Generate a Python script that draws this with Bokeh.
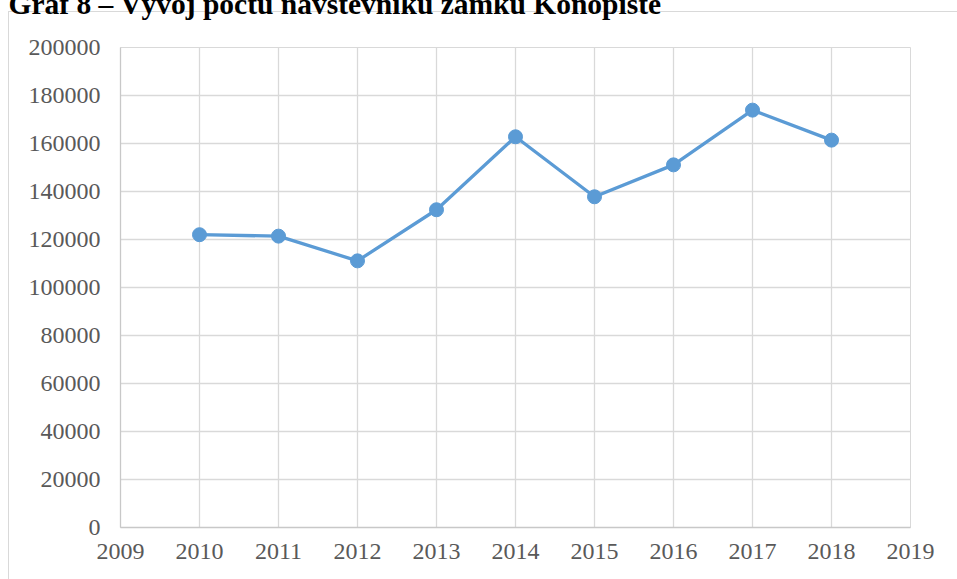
from bokeh.plotting import figure
from bokeh.models import Range1d, FixedTicker, NumeralTickFormatter, ColumnDataSource
from bokeh.embed import file_html
from bokeh.resources import INLINE

# ---- data ----
years = [2010, 2011, 2012, 2013, 2014, 2015, 2016, 2017, 2018]
visitors = [122000, 121400, 111100, 132400, 162800, 137800, 151100, 173900, 161400]
x_ticks = [2009, 2010, 2011, 2012, 2013, 2014, 2015, 2016, 2017, 2018, 2019]
y_ticks = [0, 20000, 40000, 60000, 80000, 100000, 120000, 140000, 160000, 180000, 200000]
title_text = "Graf 8 – Vývoj počtu návštěvníků zámku Konopiště"

SHIFT = 43  # canvas starts above the window so that only the lower part of the caption shows
W, H = 957, 579 + SHIFT
border_css = ("linear-gradient(#d9d9d9, #d9d9d9) 8px %dpx / 1px 100%% no-repeat, "
              "linear-gradient(#d9d9d9, #d9d9d9) 8px %dpx / 100%% 1px no-repeat, #ffffff") % (11 + SHIFT, 11 + SHIFT)
p = figure(width=W, height=H, output_backend="svg", toolbar_location=None,
           x_range=Range1d(x_ticks[0], x_ticks[-1]), y_range=Range1d(y_ticks[0], y_ticks[-1]),
           min_border_left=120, min_border_right=47, min_border_top=47 + SHIFT, min_border_bottom=52,
           margin=(-SHIFT, 0, 0, 0), styles={"background": border_css})
p.background_fill_color = "white"
p.border_fill_alpha = 0
p.outline_line_color = "#d9d9d9"
p.outline_line_width = 1

p.title.text = title_text
p.title.text_font = "Liberation Serif"
p.title.text_font_style = "bold"
p.title.text_font_size = "29.5px"
p.title.text_color = "black"
p.title.align = "left"
p.title.standoff = 56
p.title.offset = -112

grid_c = "#d9d9d9"
p.xgrid.ticker = FixedTicker(ticks=x_ticks)
p.ygrid.ticker = FixedTicker(ticks=y_ticks)
p.xgrid.grid_line_color = grid_c
p.ygrid.grid_line_color = grid_c
p.xgrid.grid_line_width = 1.3
p.ygrid.grid_line_width = 1.3

for ax in (p.xaxis[0], p.yaxis[0]):
    ax.axis_line_color = "#c8c8c8"
    ax.axis_line_width = 1.3
    ax.major_tick_line_color = None
    ax.minor_tick_line_color = None
    ax.major_tick_in = 0
    ax.major_tick_out = 0
    ax.minor_tick_in = 0
    ax.minor_tick_out = 0
    ax.major_label_text_font = "Liberation Serif"
    ax.major_label_text_font_size = "24px"
    ax.major_label_text_color = "#595959"

p.xaxis[0].ticker = FixedTicker(ticks=x_ticks)
p.yaxis[0].ticker = FixedTicker(ticks=y_ticks)
p.yaxis[0].formatter = NumeralTickFormatter(format="0")
p.xaxis[0].formatter = NumeralTickFormatter(format="0")
p.yaxis[0].major_label_standoff = 20
p.xaxis[0].major_label_standoff = 16

src = ColumnDataSource(data=dict(year=years, visitors=visitors))
line_c = "#5b9bd5"
p.line("year", "visitors", source=src, line_color=line_c, line_width=3.3)
p.scatter("year", "visitors", source=src, size=14, fill_color=line_c, line_color=line_c)

open("out.html", "w").write(file_html(p, INLINE))
